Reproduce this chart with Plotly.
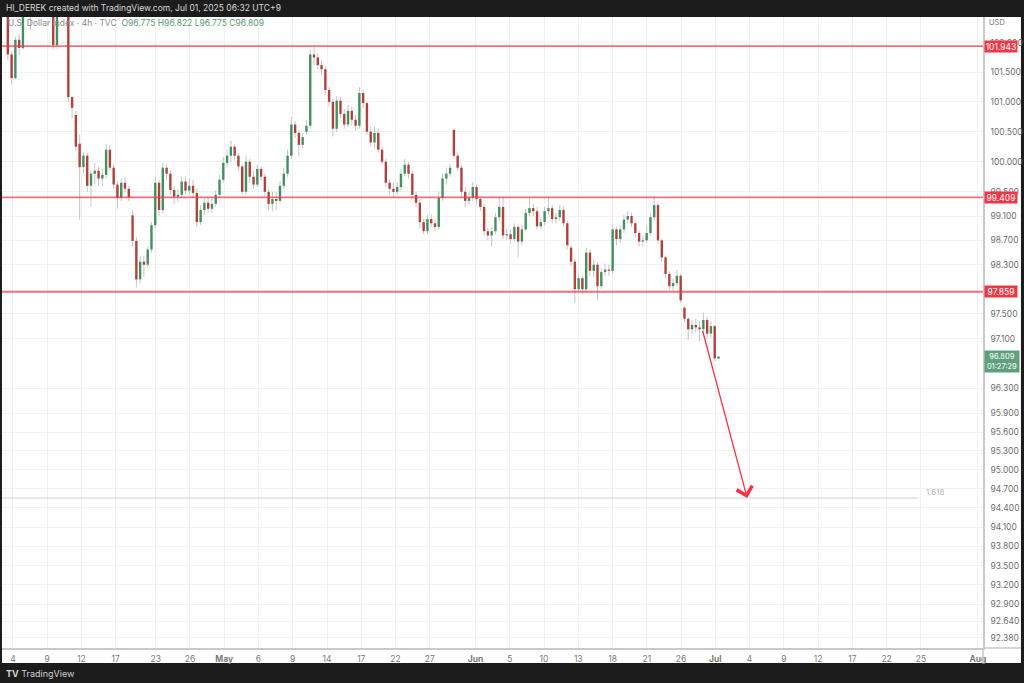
import numpy as np
import plotly.graph_objects as go

# ---------------- data (U.S. Dollar Index, TVC) ----------------
opens = [102.90, 101.80, 101.40, 102.05, 101.91, 102.70, 102.95, 102.75, 103.00, 103.25,
         103.10, 102.80, 102.60, 101.96, 102.65, 102.90, 102.70, 101.08, 100.78, 100.30,
         99.91, 100.10, 99.60, 99.80, 99.85, 99.72, 99.78, 100.20, 99.90, 99.62,
         99.40, 99.65, 99.55, 99.11, 98.69, 98.06, 98.35, 98.30, 98.55, 98.95,
         99.65, 99.20, 99.90, 99.80, 99.53, 99.42, 99.45, 99.67, 99.52, 99.60,
         99.48, 99.00, 99.20, 99.32, 99.22, 99.30, 99.45, 99.70, 99.98, 100.10,
         100.25, 100.10, 99.92, 99.50, 100.00, 99.75, 99.62, 99.88, 99.75, 99.50,
         99.30, 99.38, 99.35, 99.60, 99.80, 100.10, 100.62, 100.48, 100.28, 100.50,
         100.60, 101.80, 101.75, 101.62, 101.55, 101.20, 101.00, 100.55, 101.02, 100.80,
         100.62, 100.85, 100.70, 100.60, 101.15, 100.98, 100.50, 100.32, 100.48, 100.20,
         100.00, 99.65, 99.55, 99.50, 99.58, 99.80, 99.95, 99.80, 99.45, 99.32,
         99.00, 98.85, 99.05, 98.98, 98.92, 99.40, 99.72, 99.80, 100.53, 100.10,
         99.90, 99.50, 99.35, 99.40, 99.58, 99.38, 99.25, 98.85, 98.78, 98.85,
         99.08, 99.25, 98.78, 98.80, 98.72, 98.92, 98.68, 98.88, 99.15, 99.23,
         99.18, 98.93, 99.00, 99.18, 99.23, 99.05, 99.08, 99.20, 98.98, 98.58,
         98.35, 97.90, 98.08, 97.90, 98.50, 98.20, 98.30, 97.95, 98.18, 98.22,
         98.20, 98.88, 98.72, 98.88, 99.04, 99.10, 98.98, 98.82, 98.68, 98.70,
         98.82, 99.08, 99.28, 98.70, 98.42, 98.15, 97.95, 98.00, 98.12, 97.60,
         97.42, 97.25, 97.32, 97.28, 97.25, 97.40, 97.18, 97.30, 96.775]
highs = [103.00, 101.85, 102.10, 102.15, 102.85, 103.10, 103.20, 103.30, 103.45, 103.40,
         103.20, 102.95, 102.70, 102.80, 103.05, 103.00, 102.80, 101.10, 100.85, 100.45,
         100.15, 100.15, 99.85, 99.98, 99.92, 99.88, 100.30, 100.28, 99.95, 99.68,
         99.72, 99.75, 99.60, 99.20, 98.75, 98.45, 98.45, 98.60, 99.00, 99.75,
         99.70, 99.98, 99.95, 99.85, 99.60, 99.55, 99.75, 99.75, 99.72, 99.70,
         99.55, 99.28, 99.40, 99.40, 99.42, 99.52, 99.78, 100.08, 100.20, 100.35,
         100.30, 100.15, 99.95, 100.10, 100.05, 99.85, 99.95, 99.92, 99.80, 99.55,
         99.50, 99.50, 99.68, 99.90, 100.20, 100.75, 100.68, 100.52, 100.48, 100.70,
         101.90, 101.96, 101.82, 101.70, 101.60, 101.25, 101.05, 101.10, 101.08, 100.88,
         100.95, 100.92, 100.78, 101.25, 101.20, 101.00, 100.58, 100.58, 100.55, 100.25,
         100.05, 99.70, 99.65, 99.66, 99.88, 100.05, 100.00, 99.85, 99.50, 99.38,
         99.05, 99.12, 99.12, 99.05, 99.50, 99.80, 99.90, 99.96, 100.55, 100.15,
         99.95, 99.58, 99.50, 99.66, 99.62, 99.42, 99.30, 98.90, 98.92, 99.15,
         99.42, 99.42, 98.90, 98.88, 98.98, 98.96, 98.95, 99.22, 99.40, 99.30,
         99.25, 99.08, 99.25, 99.42, 99.28, 99.15, 99.28, 99.25, 99.02, 98.62,
         98.40, 98.15, 98.12, 98.58, 98.55, 98.38, 98.35, 98.25, 98.32, 98.30,
         98.95, 98.92, 98.95, 99.12, 99.18, 99.15, 99.02, 98.85, 98.78, 98.95,
         99.15, 99.41, 99.32, 98.72, 98.45, 98.20, 98.08, 98.22, 98.15, 97.62,
         97.45, 97.40, 97.42, 97.38, 97.52, 97.45, 97.38, 97.32, 96.822]
lows = [101.70, 101.30, 101.38, 101.79, 101.88, 102.60, 102.22, 102.60, 102.85, 102.90,
        102.60, 102.45, 101.88, 101.90, 102.50, 102.45, 101.00, 100.73, 100.18, 99.04,
        99.80, 99.50, 99.25, 99.62, 99.60, 99.60, 99.72, 99.85, 99.55, 99.22,
        99.35, 99.50, 99.35, 98.60, 97.93, 98.00, 98.10, 98.25, 98.50, 98.90,
        99.10, 99.15, 99.70, 99.45, 99.30, 99.33, 99.40, 99.45, 99.45, 99.40,
        98.92, 98.95, 99.12, 99.15, 99.15, 99.25, 99.40, 99.65, 99.90, 100.00,
        100.02, 99.85, 99.45, 99.45, 99.65, 99.55, 99.58, 99.68, 99.42, 99.20,
        99.18, 99.20, 99.30, 99.55, 99.75, 100.05, 100.40, 100.10, 100.22, 100.45,
        100.55, 101.62, 101.55, 101.45, 101.12, 100.92, 100.42, 100.50, 100.72, 100.55,
        100.58, 100.60, 100.52, 100.55, 100.90, 100.45, 100.25, 100.22, 100.15, 99.95,
        99.58, 99.45, 99.42, 99.45, 99.52, 99.75, 99.72, 99.38, 99.25, 98.90,
        98.80, 98.80, 98.92, 98.85, 98.88, 99.35, 99.62, 99.75, 100.05, 99.85,
        99.42, 99.25, 99.28, 99.35, 99.30, 99.18, 98.78, 98.70, 98.60, 98.80,
        99.02, 98.72, 98.70, 98.65, 98.68, 98.42, 98.62, 98.85, 99.10, 99.10,
        98.88, 98.88, 98.95, 99.12, 98.98, 98.98, 99.02, 98.92, 98.55, 98.28,
        97.68, 97.85, 97.82, 97.86, 98.12, 98.10, 97.72, 97.90, 98.12, 98.12,
        98.15, 98.62, 98.65, 98.82, 98.98, 98.92, 98.75, 98.60, 98.60, 98.66,
        98.78, 99.02, 98.65, 98.35, 98.08, 97.88, 97.88, 97.95, 97.68, 97.36,
        97.08, 97.18, 97.20, 97.05, 97.20, 97.10, 97.12, 96.74, 96.775]
closes = [101.80, 101.40, 102.05, 101.91, 102.70, 102.95, 102.75, 103.00, 103.25, 103.10,
          102.80, 102.60, 101.96, 102.65, 102.90, 102.70, 101.08, 100.90, 100.25, 99.91,
          100.10, 99.60, 99.80, 99.85, 99.72, 99.78, 100.20, 99.90, 99.62, 99.40,
          99.65, 99.55, 99.41, 98.69, 98.06, 98.35, 98.30, 98.55, 98.95, 99.65,
          99.20, 99.90, 99.80, 99.53, 99.42, 99.45, 99.67, 99.52, 99.60, 99.48,
          99.00, 99.20, 99.32, 99.22, 99.30, 99.45, 99.70, 99.98, 100.10, 100.25,
          100.10, 99.92, 99.50, 100.00, 99.75, 99.62, 99.88, 99.75, 99.50, 99.30,
          99.38, 99.35, 99.60, 99.80, 100.10, 100.62, 100.48, 100.28, 100.41, 100.60,
          101.80, 101.75, 101.62, 101.55, 101.20, 101.00, 100.55, 101.02, 100.80, 100.62,
          100.85, 100.70, 100.60, 101.15, 100.98, 100.50, 100.32, 100.48, 100.20, 100.00,
          99.65, 99.55, 99.50, 99.58, 99.80, 99.95, 99.80, 99.45, 99.32, 99.00,
          98.85, 99.05, 98.98, 98.92, 99.40, 99.72, 99.80, 99.90, 100.10, 99.90,
          99.50, 99.35, 99.40, 99.58, 99.38, 99.25, 98.85, 98.78, 98.85, 99.08,
          99.25, 98.78, 98.80, 98.72, 98.92, 98.68, 98.88, 99.15, 99.23, 99.18,
          98.93, 99.00, 99.18, 99.23, 99.05, 99.08, 99.20, 98.98, 98.62, 98.35,
          97.90, 98.08, 97.90, 98.50, 98.20, 98.30, 97.95, 98.18, 98.22, 98.20,
          98.88, 98.72, 98.88, 99.04, 99.10, 98.98, 98.82, 98.68, 98.70, 98.82,
          99.08, 99.28, 98.70, 98.42, 98.15, 97.95, 98.00, 98.12, 97.72, 97.42,
          97.25, 97.32, 97.28, 97.25, 97.40, 97.18, 97.30, 96.78, 96.809]

# horizontal levels drawn by the author, fib target and arrow
level_prices = [101.943, 99.409, 97.859]
fib_price = 94.557
fib_label = "1.618"
arrow_start_price = 97.25
arrow_end_price = 94.557
countdown = "01:27:29"

# axis labels
ytick_vals = [102.0, 101.5, 101.0, 100.5, 100.0, 99.5, 99.1, 98.7, 98.3, 97.5, 97.1,
              96.3, 95.9, 95.6, 95.3, 95.0, 94.7, 94.4, 94.1, 93.8, 93.5, 93.2,
              92.9, 92.64, 92.38]
xtick_dates = ["2025-04-04", "2025-04-09", "2025-04-12", "2025-04-17", "2025-04-23",
               "2025-04-26", "2025-05-01", "2025-05-06", "2025-05-09", "2025-05-14",
               "2025-05-17", "2025-05-22", "2025-05-27", "2025-06-01", "2025-06-05",
               "2025-06-10", "2025-06-13", "2025-06-18", "2025-06-21", "2025-06-26",
               "2025-07-01", "2025-07-04", "2025-07-09", "2025-07-12", "2025-07-17",
               "2025-07-22", "2025-07-25", "2025-08-01"]
xtick_text = ["4", "9", "12", "17", "23", "26", "<b>May</b>", "6", "9", "14", "17", "22",
              "27", "<b>Jun</b>", "5", "10", "13", "18", "21", "26", "<b>Jul</b>", "4",
              "9", "12", "17", "22", "25", "<b>Aug</b>"]

# ---------------- time axis: trading-day index (Good Friday = half session) ----------------
ORIGIN = "2025-04-01"
HALF_DAY = "2025-04-18"


def day_index(d):
    n = float(np.busday_count(ORIGIN, d, holidays=[HALF_DAY]))
    return n + (0.5 if d > HALF_DAY else 0.0)


first_bar = 2.55          # Apr 3 session
bar_step = 0.331          # trading days per bar
n = len(closes)
assert len(opens) == len(highs) == len(lows) == n
bar_x = first_bar + np.arange(n) * bar_step
xtick_vals = [day_index(d) for d in xtick_dates]

X_MIN, X_MAX = 2.04, 87.94
Y_MIN, Y_MAX = 92.226, 102.437
arrow_start_x = bar_x[0] + 60.8
arrow_end_x = arrow_start_x + 3.94
fib_end_x = 82.25

UP, DOWN, WICK = "#448f62", "#b0423c", "#c4c4c4"
LEVEL = "rgba(242,54,69,0.72)"

fig = go.Figure()

# wicks
wx, wy = [], []
for x, h, l in zip(bar_x, highs, lows):
    wx += [x, x, None]
    wy += [l, h, None]
fig.add_trace(go.Scatter(x=wx, y=wy, mode="lines", line=dict(color=WICK, width=1),
                         hoverinfo="skip"))

# bodies
for is_up, col in [(True, UP), (False, DOWN)]:
    bx, by = [], []
    for x, o, c in zip(bar_x, opens, closes):
        if (c >= o) == is_up:
            bx += [x, x, None]
            by += [o, c, None]
    fig.add_trace(go.Scatter(x=bx, y=by, mode="lines", line=dict(color=col, width=2.4),
                             hoverinfo="skip"))

# horizontal levels
for p in level_prices:
    fig.add_trace(go.Scatter(x=[X_MIN, X_MAX], y=[p, p], mode="lines",
                             line=dict(color=LEVEL, width=1.8), hoverinfo="skip"))

# fib 1.618 line
fig.add_trace(go.Scatter(x=[X_MIN, fib_end_x], y=[fib_price, fib_price], mode="lines",
                         line=dict(color="#cfcfcf", width=1), hoverinfo="skip"))

ann = []
# arrow
ann.append(dict(x=arrow_end_x, y=np.log10(arrow_end_price), xref="x", yref="y",
                ax=arrow_start_x, ay=np.log10(arrow_start_price), axref="x", ayref="y",
                showarrow=True, arrowhead=4, arrowsize=2.4, arrowwidth=1.3,
                arrowcolor="#f23645", text=""))
# fib label
ann.append(dict(x=fib_end_x + 0.55, y=np.log10(fib_price), xref="x", yref="y",
                text=fib_label, showarrow=False, xanchor="left", yanchor="middle",
                yshift=6, font=dict(size=8, color="#b5b5b5")))

# price labels on the axis
for p in level_prices:
    ann.append(dict(x=1.0015, y=np.log10(p), xref="paper", yref="y",
                    text="%.3f" % p, showarrow=False, xanchor="left", yanchor="middle",
                    bgcolor="#f23645", width=32, height=11, borderpad=0,
                    font=dict(size=8.5, color="white")))
ann.append(dict(x=1.0015, y=np.log10(closes[-1]), xref="paper", yref="y",
                text="%.3f<br>%s" % (closes[-1], countdown), showarrow=False,
                xanchor="left", yanchor="top", yshift=7, bgcolor="#5f9f7c", width=32,
                borderpad=1, font=dict(size=7.5, color="white")))

# header, legend, footer
ann.append(dict(x=0.002, y=1.0143, xref="paper", yref="paper", showarrow=False,
                xanchor="left", yanchor="middle",
                text="HI_DEREK created with TradingView.com, Jul 01, 2025 06:32 UTC+9",
                font=dict(size=8.5, color="#d8d8d8")))
ohlc = ("O%.3f H%.3f L%.3f C%.3f" % (opens[-1], highs[-1], lows[-1], closes[-1]))
ann.append(dict(x=0.004, y=0.9905, xref="paper", yref="paper", showarrow=False,
                xanchor="left", yanchor="middle",
                text="U.S. Dollar Index · 4h · TVC  <span style='color:#5a9a72'>" + ohlc + "</span>",
                font=dict(size=8.5, color="#8a8a8a")))
ann.append(dict(x=1.0145, y=0.9905, xref="paper", yref="paper", showarrow=False,
                xanchor="center", yanchor="middle", text="USD",
                font=dict(size=7.5, color="#777777")))
ann.append(dict(x=0.002, y=-0.0412, xref="paper", yref="paper", showarrow=False,
                xanchor="left", yanchor="middle",
                text="<b>TV</b> TradingView", font=dict(size=9, color="#d0d0d0")))

shapes = [
    dict(type="rect", xref="paper", yref="paper", x0=0, x1=1.0387, y0=-0.0238, y1=1,
         fillcolor="white", line=dict(width=0), layer="below"),
    dict(type="line", xref="paper", yref="paper", x0=1.0, x1=1.0, y0=-0.0238, y1=0,
         line=dict(color="#c9c9c9", width=1.5)),
    dict(type="line", xref="paper", yref="paper", x0=1.0, x1=1.0387, y0=0, y1=0,
         line=dict(color="#c9c9c9", width=1.5)),
]

fig.update_layout(
    width=1024, height=683,
    margin=dict(l=2, r=41, t=17, b=35),
    paper_bgcolor="#1c1c1c", plot_bgcolor="white",
    showlegend=False,
    font=dict(family="Inter, Roboto, sans-serif"),
    annotations=ann, shapes=shapes,
    xaxis=dict(range=[X_MIN, X_MAX], tickmode="array", tickvals=xtick_vals,
               ticktext=xtick_text, showgrid=True, gridcolor="#f1f1f1", zeroline=False,
               showline=True, linecolor="#c9c9c9", linewidth=1.5, ticks="",
               tickfont=dict(size=8.5, color="#7a7a7a"), ticklabelstandoff=2),
    yaxis=dict(type="log", side="right", range=[np.log10(Y_MIN), np.log10(Y_MAX)],
               tickmode="array", tickvals=ytick_vals,
               ticktext=["%.3f" % v for v in ytick_vals], showgrid=True,
               gridcolor="#f1f1f1", zeroline=False, showline=True, linecolor="#c9c9c9",
               linewidth=1.5, ticks="", tickfont=dict(size=8.5, color="#6f6f6f"),
               ticklabelstandoff=4),
)

fig.write_html("out.html", config={"displayModeBar": False})

# remove the browser's default page margin so the figure fills the window exactly
with open("out.html", encoding="utf-8") as f:
    page = f.read()
page = page.replace("<head>", "<head><style>html,body{margin:0;padding:0;overflow:hidden;background:#1c1c1c}</style>", 1)
with open("out.html", "w", encoding="utf-8") as f:
    f.write(page)
